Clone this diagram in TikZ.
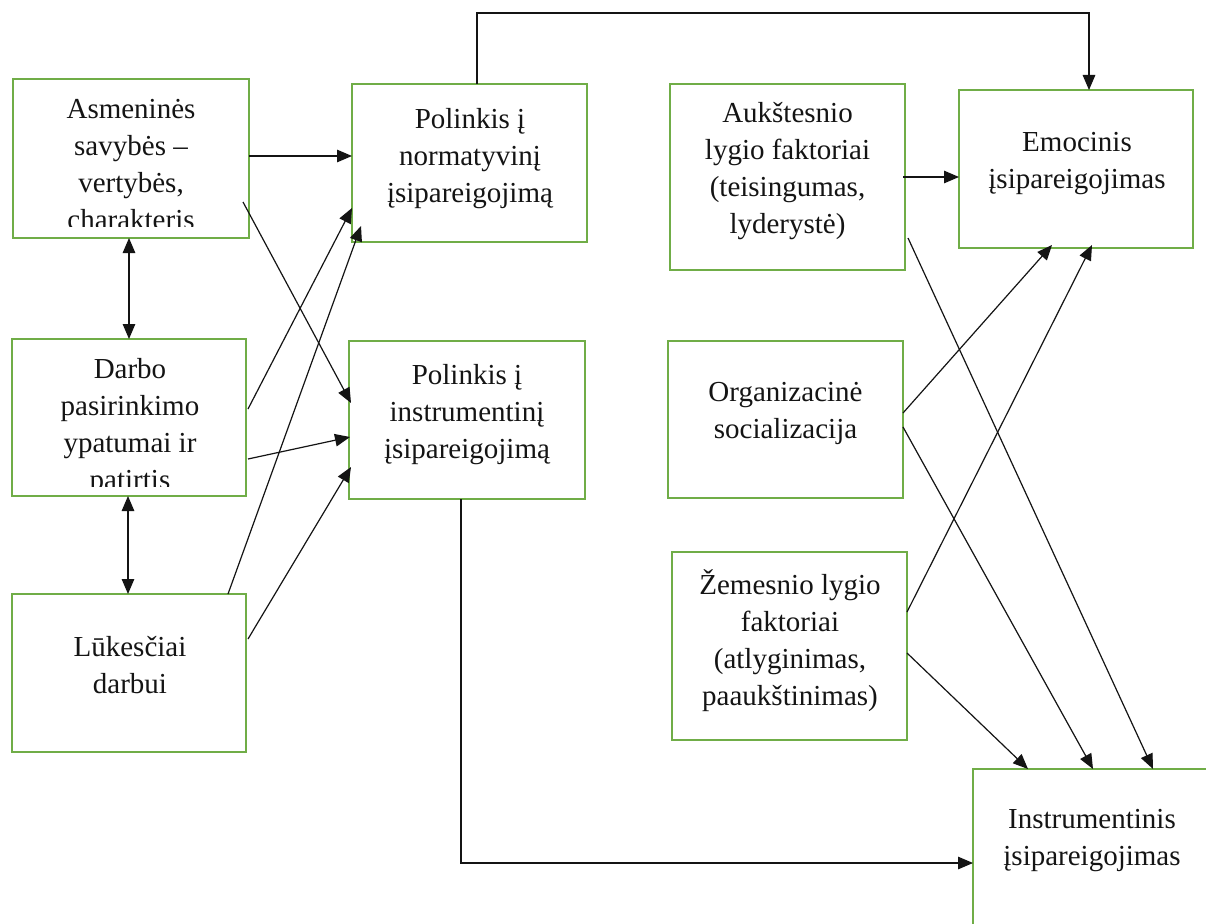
\documentclass[tikz,border=0pt]{standalone}
\usepackage{fontspec}
\setmainfont{Liberation Serif}
\usetikzlibrary{arrows.meta}
\definecolor{boxgreen}{RGB}{112,173,71}
\definecolor{inkc}{RGB}{20,20,20}
\tikzset{
  box/.style={draw=boxgreen, line width=2.5pt, inner sep=0pt, outer sep=0pt},
  txt/.style={font=\fontsize{29}{37}\selectfont, align=center, inner sep=0pt,
    text=inkc, execute at begin node=\strut, execute at end node=\strut},
  conn/.style={draw=inkc, line width=1.2pt, -{Triangle[length=15pt,width=12.5pt]}},
  dbl/.style={draw=inkc, line width=1.2pt, {Triangle[length=15pt,width=12.5pt]}-{Triangle[length=15pt,width=12.5pt]}}
}
\begin{document}
\begin{tikzpicture}[x=1pt,y=-1pt]
\useasboundingbox (0,0) rectangle (1206,923);
\clip (0,0) rectangle (1206,923);
\fill[white] (0,0) rectangle (1206,923);

% boxes
\node[box, minimum width=236pt, minimum height=159pt] (A)  at (131,158.5) {};
\node[box, minimum width=234pt, minimum height=157pt] (D)  at (129,417.5) {};
\node[box, minimum width=234pt, minimum height=158pt] (L)  at (129,673) {};
\node[box, minimum width=235pt, minimum height=158pt] (PN) at (469.5,163) {};
\node[box, minimum width=236pt, minimum height=158pt] (PI) at (467,420) {};
\node[box, minimum width=235pt, minimum height=186pt] (AU) at (787.5,177) {};
\node[box, minimum width=234pt, minimum height=158pt] (EM) at (1076,169) {};
\node[box, minimum width=235pt, minimum height=157pt] (OR) at (785.5,419.5) {};
\node[box, minimum width=235pt, minimum height=188pt] (ZE) at (789.5,646) {};
\node[box, minimum width=236pt, minimum height=159pt] (IN) at (1091,848.5) {};

% texts (the two upper left boxes cut their last line, as in the source)
\begin{scope}
  \clip ([shift={(1.3pt,12pt)}]A.south west) rectangle ([shift={(-1.3pt,-1.3pt)}]A.north east);
  \node[txt] (tA) at (131,170) {Asmeninės\\savybės –\\vertybės,\\charakteris};
\end{scope}
\begin{scope}
  \clip ([shift={(1.3pt,9.5pt)}]D.south west) rectangle ([shift={(-1.3pt,-1.3pt)}]D.north east);
  \node[txt] (tD) at (130,429.5) {Darbo\\pasirinkimo\\ypatumai ir\\patirtis};
\end{scope}
\node[txt] (tL)  at (130,670.5) {Lūkesčiai\\darbui};
\node[txt] (tPN) at (470,160.5) {Polinkis į\\normatyvinį\\įsipareigojimą};
\node[txt] (tPI) at (467,416.5) {Polinkis į\\instrumentinį\\įsipareigojimą};
\node[txt] (tAU) at (787.5,173.5) {Aukštesnio\\lygio faktoriai\\(teisingumas,\\lyderystė)};
\node[txt] (tEM) at (1077,166) {Emocinis\\įsipareigojimas};
\node[txt] (tOR) at (785.5,416) {Organizacinė\\socializacija};
\node[txt] (tZE) at (790,643.5) {Žemesnio lygio\\faktoriai\\(atlyginimas,\\paaukštinimas)};
\node[txt] (tIN) at (1092,843) {Instrumentinis\\įsipareigojimas};

% connectors, left part
\draw[conn] ([yshift=2.5pt]A.east) -- ([yshift=7pt]PN.west);
\draw[conn] ([xshift=-6pt,yshift=-43.5pt]A.east) -- ([xshift=2pt,yshift=17pt]PI.west);
\draw[conn] ([xshift=2pt,yshift=8.5pt]D.east) -- ([yshift=-45pt]PN.west);
\draw[conn] ([xshift=99pt]L.north) -- ([xshift=9pt,yshift=-63pt]PN.west);
\draw[conn] ([xshift=2pt,yshift=-41.5pt]D.east) -- ([xshift=1pt,yshift=-17pt]PI.west);
\draw[conn] ([xshift=2pt,yshift=34pt]L.east) -- ([xshift=2pt,yshift=-47pt]PI.west);
\draw[dbl] ([xshift=-2pt]A.south) -- (D.north);
\draw[dbl] ([xshift=-1pt]D.south) -- ([xshift=-1pt]L.north);

% long elbow connectors
\coordinate (topc) at (800,13);
\draw[conn] ([xshift=7.5pt]PN.north) |- (topc) -| ([xshift=13pt]EM.north);
\draw[conn] ([xshift=-6pt]PI.south) |- ([yshift=-14.5pt]IN.west);

% connectors, right part
\draw[conn] ([xshift=-2pt]AU.east) -- ([yshift=-8pt]EM.west);
\draw[conn] ([xshift=3pt,yshift=-61pt]AU.east) -- ([xshift=62pt]IN.north);
\draw[conn] ([yshift=6.5pt]OR.east) -- ([xshift=-24pt,yshift=3pt]EM.south);
\draw[conn] ([yshift=-7.5pt]OR.east) -- ([xshift=2pt]IN.north);
\draw[conn] ([yshift=34pt]ZE.east) -- ([xshift=16pt,yshift=3pt]EM.south);
\draw[conn] ([yshift=-7pt]ZE.east) -- ([xshift=-63pt]IN.north);
\end{tikzpicture}
\end{document}
